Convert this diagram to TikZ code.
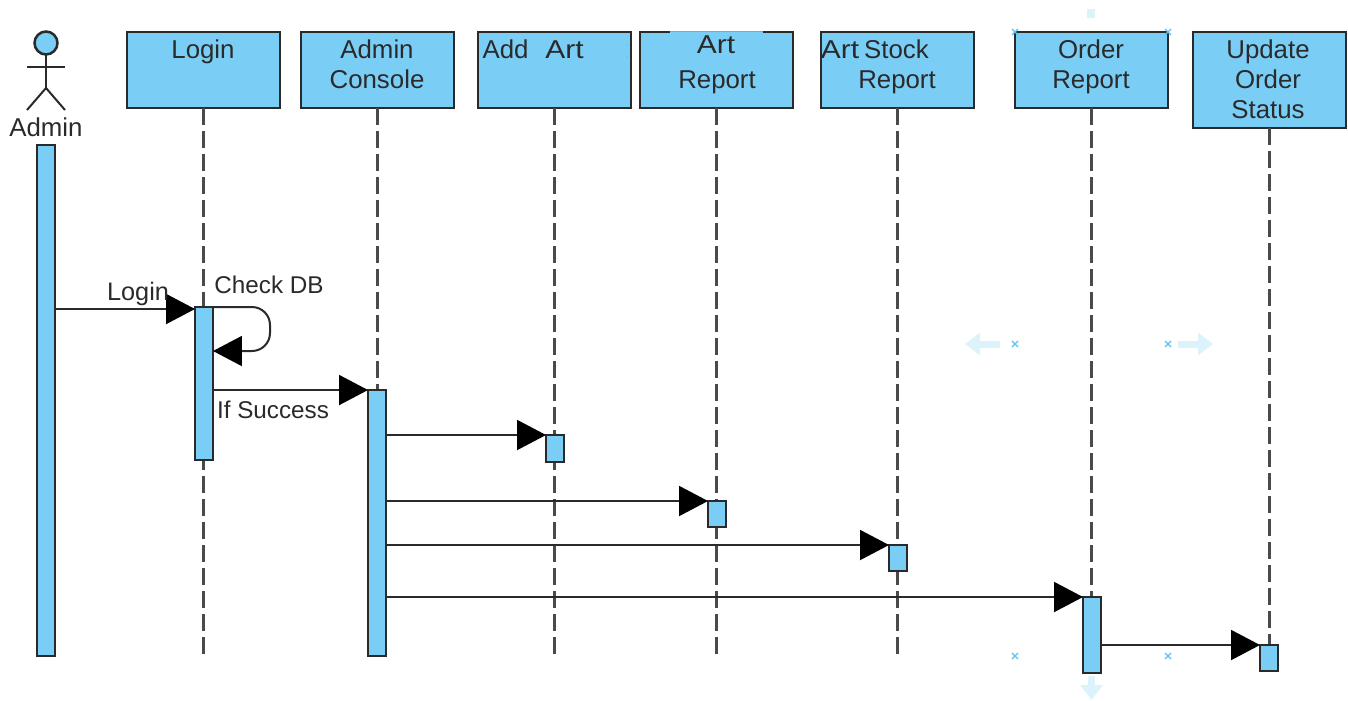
\documentclass[tikz,border=0pt]{standalone}
\usepackage{fontspec}
\setmainfont{Liberation Sans}
\usetikzlibrary{arrows.meta,calc}
\definecolor{boxblue}{HTML}{7ACEF6}
\definecolor{inkgrey}{HTML}{2A2A2A}
\definecolor{handleblue}{HTML}{55C4F5}
\definecolor{ghostblue}{HTML}{DDF3FC}
\def\handlemark(#1,#2){\draw[color=handleblue, line width=0.025cm] (#1-3, #2-3) -- (#1+3, #2+3) (#1-3, #2+3) -- (#1+3, #2-3);}
\def\wideart{\scalebox{1.16}[1]{Art}}
\tikzset{
	lifebox/.style={draw=inkgrey, fill=boxblue, line width=0.055cm, inner sep=0, outer sep=0, minimum width=3.06cm, minimum height=1.52cm},
	bar/.style={draw=inkgrey, fill=boxblue, line width=0.05cm, inner sep=0, outer sep=0, minimum width=0.36cm},
	boxtext/.style={anchor=base, inner sep=0, text=inkgrey, font=\fontsize{14.7}{16}\selectfont},
	msgtext/.style={anchor=base, inner sep=0, text=inkgrey, font=\fontsize{13.8}{16}\selectfont},
	lifeline/.style={color=inkgrey!85, line width=0.05cm, dash pattern=on 0.34cm off 0.12cm},
	msg/.style={color=inkgrey, line width=0.04cm, -{Triangle[length=0.58cm, width=0.6cm, color=black]}},
	ghost/.style={color=ghostblue, line width=0.14cm, -{Triangle[length=0.3cm, width=0.44cm]}}
}

\begin{document}
\begin{tikzpicture}[x=0.02cm, y=-0.02cm]
	%%%%% START %%%%%
	\useasboundingbox (0, 0) rectangle (1348, 700);

	% actor
	\draw[draw=inkgrey, fill=boxblue, line width=0.05cm] (46, 43) circle (11.5);
	\draw[line width=0.04cm, color=inkgrey] (46, 54.5) -- (46, 88);
	\draw[line width=0.04cm, color=inkgrey] (27, 67) -- (65, 67);
	\draw[line width=0.04cm, color=inkgrey] (27, 110) -- (46, 88) -- (65, 110);
	\node[boxtext] (admintext) at (46, 136) {Admin};

	% lifeline heads
	\node[lifebox] (loginhead) at (203.5, 70) {};
	\node[lifebox] (consolehead) at (377.5, 70) {};
	\node[lifebox] (addhead) at (554.5, 70) {};
	\node[lifebox] (reporthead) at (716.5, 70) {};
	\node[lifebox] (stockhead) at (897.5, 70) {};
	\node[lifebox] (orderhead) at (1091.5, 70) {};
	\node[lifebox, minimum height=1.92cm] (statushead) at (1269.5, 80) {};

	% worn edge on top of the art report box
	\fill[color=boxblue] (670, 30.5) rectangle (763, 33.5);
	\draw[color=inkgrey!45, line width=0.01cm] (670, 31) -- (763, 31);
	\fill[color=handleblue] (627, 45) circle (0.8);
	\fill[color=handleblue] (627, 57) circle (0.8);

	\node[boxtext] (logintext) at (203, 58) {Login};
	\node[boxtext] (consoletexta) at (377, 58) {Admin};
	\node[boxtext] (consoletextb) at (377, 88) {Console};
	\node[boxtext] (addtexta) at (505.5, 58) {Add};
	\node[boxtext] (addtextb) at (564.5, 58) {\wideart};
	\node[boxtext] (reporttexta) at (716, 53) {\wideart};
	\node[boxtext] (reporttextb) at (717, 88) {Report};
	\node[boxtext] (stocktexta) at (840, 58) {\wideart};
	\node[boxtext] (stocktextb) at (896.5, 58) {Stock};
	\node[boxtext] (stocktextc) at (897, 88) {Report};
	\node[boxtext] (ordertexta) at (1091, 58) {Order};
	\node[boxtext] (ordertextb) at (1091, 88) {Report};
	\node[boxtext] (statustexta) at (1268, 58) {Update};
	\node[boxtext] (statustextb) at (1268, 88) {Order};
	\node[boxtext] (statustextc) at (1268, 118) {Status};

	% lifelines
	\coordinate (loginend) at (203.5, 655);
	\coordinate (consoleend) at (377.5, 655);
	\coordinate (addend) at (554.5, 655);
	\coordinate (reportend) at (716.5, 655);
	\coordinate (stockend) at (897.5, 655);
	\coordinate (orderend) at (1091.5, 600);
	\coordinate (statusend) at (1269.5, 648);
	\draw[lifeline] (loginhead.south) -- (loginend);
	\draw[lifeline] (consolehead.south) -- (consoleend);
	\draw[lifeline] (addhead.south) -- (addend);
	\draw[lifeline] (reporthead.south) -- (reportend);
	\draw[lifeline] (stockhead.south) -- (stockend);
	\draw[lifeline] (orderhead.south) -- (orderend);
	\draw[lifeline] (statushead.south) -- (statusend);

	% activation bars
	\node[bar, minimum height=10.22cm] (adminbar) at (46, 400.5) {};
	\node[bar, minimum height=3.06cm] (loginbar) at (204, 383.5) {};
	\node[bar, minimum height=5.32cm] (consolebar) at (377, 523) {};
	\node[bar, minimum height=0.54cm] (addbar) at (555, 448.5) {};
	\node[bar, minimum height=0.52cm] (reportbar) at (717, 514) {};
	\node[bar, minimum height=0.52cm] (stockbar) at (898, 558) {};
	\node[bar, minimum height=1.52cm] (orderbar) at (1092, 635) {};
	\node[bar, minimum height=0.52cm] (statusbar) at (1269, 658) {};

	% messages
	\draw[msg] ($(adminbar.east |- loginbar.north)+(0, 2)$) -- ($(loginbar.north west)+(0, 2)$);
	\coordinate (checkturn) at (270, 307);
	\coordinate (checkback) at (213, 351);
	\draw[msg, rounded corners=0.36cm] (loginbar.north east) -- (checkturn) -- (checkturn |- checkback) -- (checkback);
	\draw[msg] (loginbar.east |- consolebar.north) -- (consolebar.north west);
	\draw[msg] (consolebar.east |- addbar.north) -- (addbar.north west);
	\draw[msg] (consolebar.east |- reportbar.north) -- (reportbar.north west);
	\draw[msg] (consolebar.east |- stockbar.north) -- (stockbar.north west);
	\draw[msg] (consolebar.east |- orderbar.north) -- (orderbar.north west);
	\draw[msg] (orderbar.east |- statusbar.north) -- (statusbar.north west);

	\node[msgtext, font=\fontsize{14.4}{16}\selectfont] (logintag) at (138, 300) {Login};
	\node[msgtext] (checktag) at (269, 293) {Check DB};
	\node[msgtext] (successtag) at (273, 418) {If Success};

	% selection handles
	\handlemark(1015, 32)
	\handlemark(1168, 32)
	\handlemark(1015, 344)
	\handlemark(1168, 344)
	\handlemark(1015, 656)
	\handlemark(1168, 656)
	\fill[color=ghostblue] (1087, 9) rectangle (1095, 18);
	\draw[ghost] (1000, 344) -- (965, 344);
	\draw[ghost] (1178, 344) -- (1213, 344);
	\draw[ghost] (1091.5, 676) -- (1091.5, 700);
	%%%%% END %%%%%
\end{tikzpicture}
\end{document}
